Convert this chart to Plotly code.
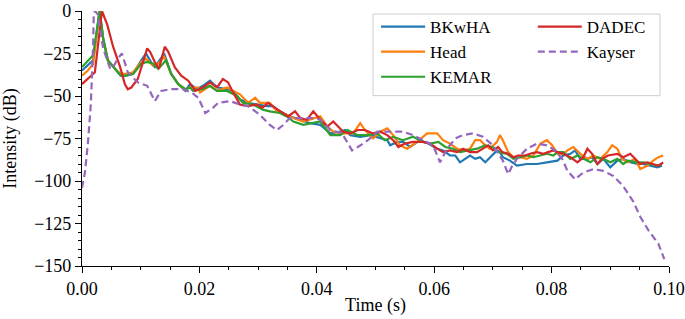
import plotly.graph_objects as go

# time values in milliseconds, intensity in dB
t_bkwha = [0.0, 1.0, 1.9, 3.0, 3.6, 4.4, 5.6, 6.6, 7.5, 8.7, 10.1, 10.9, 12.1, 12.4, 14.0, 15.2, 16.4, 17.6,
           18.4, 19.6, 20.6, 21.8, 22.7, 23.2, 24.7, 25.7, 26.9, 28.3, 29.8, 31.5, 32.5, 33.7, 35.4, 37.2,
           38.9, 40.6, 42.3, 44.0, 44.8, 45.7, 47.4, 49.1, 50.8, 52.0, 52.5, 53.7, 54.7, 55.9, 57.6, 59.0,
           60.5, 61.5, 62.7, 63.6, 64.4, 65.3, 66.1, 67.0, 67.8, 68.7, 69.5, 70.7, 71.2, 71.7, 72.9, 74.1,
           75.8, 77.5, 79.2, 81.0, 82.0, 83.2, 84.0, 84.9, 86.1, 86.9, 87.8, 88.8, 90.0, 91.2, 92.2, 93.4,
           94.6, 95.6, 96.8, 98.0, 98.8]
db_bkwha = [-35, -32, -29, 0, -16, -29, -34, -38, -38, -37, -29, -25, -32, -33, -25, -37, -43, -47,
            -43, -46, -44, -41, -44, -45, -46, -47, -52, -54, -55, -56, -56, -59, -62, -64,
            -66, -67, -72, -71, -70, -73, -74, -73, -75, -76, -79, -77, -77, -80, -76, -78,
            -81, -82, -85, -85, -89, -87, -85, -87, -86, -89, -86, -82, -83, -86, -88, -91,
            -90, -90, -89, -88, -85, -84, -82, -87, -87, -86, -90, -87, -92, -88, -87, -89,
            -90, -90, -91, -92, -91]

t_head = [0.0, 1.0, 1.9, 3.0, 3.6, 4.4, 5.6, 6.6, 7.5, 8.7, 10.1, 10.9, 12.1, 13.0, 14.0, 15.2, 16.4, 17.6,
          18.4, 19.8, 20.1, 21.8, 23.0, 24.7, 26.9, 28.3, 29.5, 30.3, 32.0, 33.2, 34.9, 36.0, 37.7, 39.4,
          40.6, 41.8, 42.8, 44.5, 46.2, 47.4, 48.2, 49.6, 50.8, 52.0, 53.0, 54.2, 55.4, 57.1, 58.8, 60.5,
          61.5, 62.7, 63.9, 64.9, 66.1, 67.0, 67.8, 68.7, 69.5, 70.7, 71.2, 71.7, 72.6, 73.5, 74.6, 75.8,
          76.9, 78.1, 79.2, 80.1, 81.0, 82.0, 82.7, 83.7, 84.9, 86.1, 87.1, 88.3, 89.5, 90.3, 91.2, 92.0,
          93.0, 94.2, 95.1, 96.3, 97.3, 98.2, 99.0]
db_head = [-38, -35, -31, 0, -16, -29, -34, -37, -37, -36, -30, -28, -32, -31, -27, -37, -43, -46,
           -45, -45, -48, -44, -47, -45, -49, -54, -51, -54, -54, -59, -61, -63, -65, -63,
           -62, -68, -71, -72, -72, -66, -70, -75, -71, -69, -73, -79, -81, -77, -72, -72,
           -76, -78, -81, -82, -81, -76, -76, -79, -81, -77, -73, -76, -83, -86, -86, -87,
           -85, -78, -76, -79, -84, -84, -82, -80, -84, -87, -85, -87, -83, -79, -81, -87,
           -89, -87, -93, -91, -88, -86, -85]

t_kemar = [0.0, 1.0, 1.9, 3.0, 3.6, 4.4, 5.6, 6.6, 7.5, 8.7, 10.1, 11.1, 12.1, 13.0, 14.3, 15.2, 16.4, 17.6,
           18.4, 18.9, 20.5, 21.8, 23.0, 24.7, 26.4, 27.4, 29.1, 30.8, 32.0, 33.7, 34.9, 36.0, 37.7, 39.4,
           40.6, 42.3, 44.0, 45.2, 46.9, 48.6, 50.3, 51.6, 53.0, 54.7, 56.4, 58.1, 59.3, 60.7, 61.9, 63.2,
           64.4, 65.8, 67.3, 68.7, 69.9, 70.9, 72.4, 73.5, 74.6, 75.8, 76.9, 78.1, 79.2, 80.3, 81.0, 82.0,
           83.2, 84.4, 85.4, 86.6, 87.8, 88.8, 90.0, 91.2, 92.2, 93.0, 94.6, 95.6, 96.8, 98.0, 98.8]
db_kemar = [-33, -29, -26, 0, -16, -29, -34, -38, -38, -37, -31, -30, -31, -34, -29, -37, -43, -46,
            -45, -47, -46, -44, -47, -47, -50, -54, -55, -58, -59, -60, -62, -65, -67, -66,
            -65, -73, -73, -70, -73, -73, -72, -76, -74, -76, -74, -77, -78, -77, -80, -81,
            -83, -82, -81, -79, -80, -83, -84, -87, -86, -85, -86, -85, -84, -85, -83, -83,
            -87, -85, -87, -89, -86, -87, -89, -87, -90, -88, -89, -89, -90, -91, -90]

t_dadec = [0.0, 1.0, 2.2, 3.4, 4.3, 5.3, 6.5, 7.3, 7.8, 8.4, 9.5, 10.4, 11.1, 11.6, 12.4, 13.1, 14.1, 14.7,
           15.8, 16.9, 18.1, 19.3, 20.6, 21.8, 23.0, 24.0, 24.9, 25.6, 26.9, 28.3, 29.8, 30.7, 31.7, 32.9,
           34.1, 35.1, 36.3, 37.2, 38.3, 39.4, 40.6, 41.8, 42.8, 43.6, 44.5, 45.7, 47.0, 48.2, 49.6, 50.8,
           52.0, 53.0, 53.9, 55.0, 56.4, 58.1, 59.3, 60.5, 61.5, 62.7, 63.9, 64.9, 66.1, 67.3, 68.3, 69.2,
           70.0, 70.9, 71.6, 72.6, 73.5, 74.3, 75.5, 76.3, 77.5, 78.6, 79.4, 80.3, 81.0, 82.0, 83.2, 84.4,
           85.4, 86.1, 86.9, 87.8, 88.6, 89.6, 91.2, 92.2, 93.4, 94.2, 95.1, 96.3, 97.3, 98.2, 99.0]
db_dadec = [-43, -40, -36, 0, -8, -21, -33, -43, -46, -45, -40, -30, -22, -24, -30, -34, -21, -24,
            -33, -38, -41, -47, -45, -42, -45, -40, -42, -47, -55, -56, -55, -57, -54, -57,
            -60, -62, -59, -63, -64, -59, -64, -68, -65, -68, -71, -72, -70, -70, -72, -71,
            -73, -76, -80, -78, -77, -77, -78, -81, -83, -82, -83, -81, -83, -83, -81, -79,
            -82, -80, -83, -84, -86, -85, -85, -84, -83, -84, -83, -82, -83, -84, -86, -89,
            -86, -81, -84, -90, -87, -85, -84, -86, -84, -87, -90, -89, -90, -91, -89]

t_kayser = [0.0, 0.5, 1.0, 1.5, 1.9, 2.0, 2.2, 2.7, 3.6, 4.8, 5.3, 6.1, 6.8, 7.8, 9.5, 11.1, 12.4, 13.5,
            15.0, 17.2, 18.7, 19.8, 21.0, 22.3, 23.2, 25.2, 26.9, 28.3, 30.3, 32.0, 33.2, 34.3, 35.4, 37.7,
            39.7, 40.6, 42.3, 44.3, 45.3, 46.0, 47.0, 48.7, 50.3, 52.5, 54.7, 56.4, 58.1, 59.8, 61.0, 62.2,
            63.6, 64.9, 66.6, 68.3, 70.0, 71.7, 72.6, 73.3, 74.1, 75.8, 77.5, 79.2, 80.6, 81.8, 82.7, 84.0,
            85.4, 87.1, 88.8, 90.5, 92.2, 93.9, 95.1, 96.5, 98.2, 98.8, 99.2]
db_kayser = [-104, -95, -78, -55, -20, -2, 0, -2, -22, -34, -33, -28, -25, -36, -42, -44, -53, -47,
             -46, -46, -48, -51, -60, -57, -54, -53, -55, -56, -61, -67, -70, -67, -63, -63,
             -63, -64, -70, -72, -78, -82, -80, -76, -71, -71, -71, -73, -76, -79, -89, -81,
             -75, -73, -72, -74, -79, -88, -96, -91, -87, -81, -78, -79, -82, -87, -94, -99,
             -95, -93, -94, -97, -103, -112, -121, -129, -137, -143, -146]

x_ticks = [0.0, 0.02, 0.04, 0.06, 0.08, 0.10]
x_tick_labels = ["0.00", "0.02", "0.04", "0.06", "0.08", "0.10"]
y_ticks = [-150, -125, -100, -75, -50, -25, 0]

# name, t, dB, colour, dash, legend column
series = [
    ("BKwHA", t_bkwha, db_bkwha, "#1f77b4", "solid", "legend"),
    ("Head", t_head, db_head, "#ff7f0e", "solid", "legend"),
    ("KEMAR", t_kemar, db_kemar, "#2ca02c", "solid", "legend"),
    ("DADEC", t_dadec, db_dadec, "#d62728", "solid", "legend2"),
    ("Kayser", t_kayser, db_kayser, "#9467bd", "7px,4px", "legend2"),
]

FONT = "Liberation Serif"
fig = go.Figure()
for name, t, db, color, dash, leg in series:
    fig.add_trace(go.Scatter(
        x=[v / 1000.0 for v in t], y=db, name=name, mode="lines",
        line=dict(color=color, width=2.2, dash=dash), legend=leg, legendgroup=name,
    ))

axis_common = dict(
    showline=True, linecolor="black", linewidth=1.2, mirror=False,
    ticks="outside", ticklen=6, tickwidth=1.2, tickcolor="black",
    showgrid=False, zeroline=False, automargin=False, ticklabeloverflow="allow",
    tickfont=dict(family=FONT, size=18, color="black"),
)

leg_common = dict(
    xanchor="left", yanchor="top", bgcolor="rgba(0,0,0,0)", borderwidth=0,
    tracegroupgap=0, itemwidth=44, font=dict(family=FONT, size=17, color="black"),
)

fig.update_layout(
    width=685, height=319,
    margin=dict(l=82, r=16, t=10, b=53),
    paper_bgcolor="white", plot_bgcolor="white",
    font=dict(family=FONT, size=18, color="black"),
    xaxis=dict(range=[0, 0.1], tickvals=x_ticks, ticktext=x_tick_labels,
               minor=dict(dtick=0.005, tick0=0, ticks="outside", ticklen=3, tickwidth=1, tickcolor="black"),
               title=dict(text="Time (s)", font=dict(family=FONT, size=18), standoff=0),
               **axis_common),
    yaxis=dict(range=[-150, 0], tickvals=y_ticks,
               minor=dict(dtick=5, tick0=0, ticks="outside", ticklen=3, tickwidth=1, tickcolor="black"),
               title=dict(text="Intensity (dB)", font=dict(family=FONT, size=18), standoff=12),
               **axis_common),
    legend=dict(x=0.501, y=1.004, **leg_common),
    legend2=dict(x=0.768, y=1.004, **leg_common),
    shapes=[dict(type="rect", xref="paper", yref="paper", x0=0.4957, x1=0.9847, y0=0.668, y1=0.988,
                 line=dict(color="#cccccc", width=1), fillcolor="rgba(255,255,255,0.8)", layer="above")],
    showlegend=True,
)

fig.write_html("out.html", config={"displayModeBar": False},
               post_script="document.body.style.margin='0';")
